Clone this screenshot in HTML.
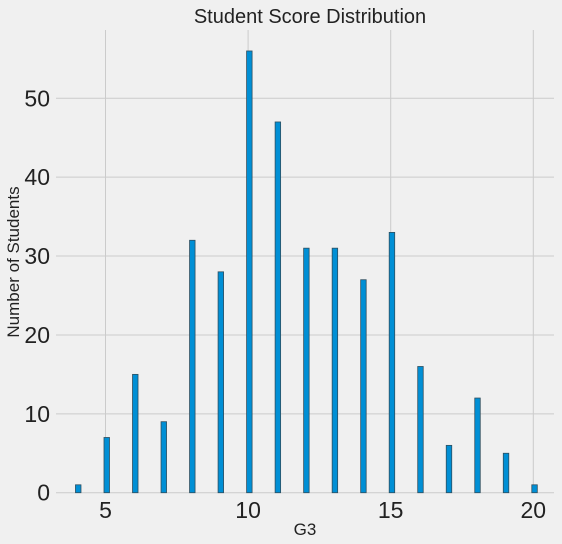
<!DOCTYPE html>
<html><head><meta charset="utf-8"><style>
body{margin:0;background:#f0f0f0;}
svg{display:block;font-family:"Liberation Sans",sans-serif;}
</style></head><body>
<svg id="chart" width="562" height="544" viewBox="0 0 562 544">
<rect width="562" height="544" fill="#f0f0f0"/>
<g id="grid"></g><g id="bars"></g><g id="ticks"></g>
<text x="310" y="23" font-size="20" text-anchor="middle" fill="#222">Student Score Distribution</text>
<text x="305" y="535" font-size="17" text-anchor="middle" fill="#222">G3</text>
<text transform="translate(19,262) rotate(-90)" font-size="17" text-anchor="middle" fill="#222">Number of Students</text>
</svg>
<script>
const categories=[4,5,6,7,8,9,10,11,12,13,14,15,16,17,18,19,20];
const counts=[1,7,15,9,32,28,56,47,31,31,27,33,16,6,12,5,1];
const xTicks=[5,10,15,20];
const yTicks=[0,10,20,30,40,50];
const L=56,R=554,T=30,B=492.7;
const xs=v=>105.5+(v-5)*(533.3-105.5)/15;
const ys=v=>B-v*(B-98.3)/50;
const NS="http://www.w3.org/2000/svg";
function mk(tag,attrs,parent){const e=document.createElementNS(NS,tag);for(const k in attrs)e.setAttribute(k,attrs[k]);document.getElementById(parent).appendChild(e);return e;}
xTicks.forEach(t=>{
  const l=mk('line',{x1:xs(t),x2:xs(t),y1:T,y2:B,stroke:'#cbcbcb','stroke-width':1},'grid');
  
  
  const tx=mk('text',{x:xs(t),y:518,'font-size':23,'text-anchor':'middle',fill:'#222'},'ticks');
  tx.textContent=t;
  
  
});
yTicks.forEach(t=>{
  const l=mk('line',{x1:L,x2:R,y1:ys(t),y2:ys(t),stroke:'#cbcbcb','stroke-width':1},'grid');
  
  
  const tx=mk('text',{x:50,y:ys(t)+8,'font-size':23,'text-anchor':'end',fill:'#222'},'ticks');
  tx.textContent=t;
  
  
});
categories.forEach((c,i)=>{
  const x0=xs(c)-1.5,w=5.5;
  const r=mk('rect',{x:x0,y:ys(counts[i]),width:w,height:B-ys(counts[i]),fill:'#008fd5',stroke:'#2f4f5f','stroke-width':0.8},'bars');
  
  
});
</script>
</body></html>
